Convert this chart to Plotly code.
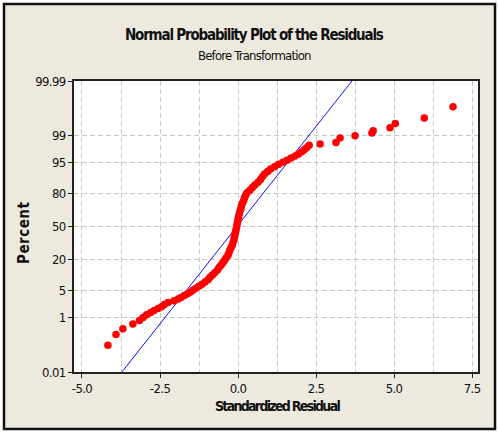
import plotly.graph_objects as go
from statistics import NormalDist

# ---- data ----
residual = [
    -4.17, -3.91, -3.69, -3.37, -3.16, -3.04, -2.93, -2.80, -2.69, -2.56,
    -2.45, -2.36, -2.24, -2.05, -1.92, -1.83, -1.72, -1.62, -1.52, -1.44,
    -1.35, -1.25, -1.15, -1.06, -0.96, -0.90, -0.82, -0.74, -0.66, -0.61,
    -0.54, -0.48, -0.43, -0.38, -0.32, -0.29, -0.26, -0.22, -0.18, -0.16,
    -0.13, -0.12, -0.10, -0.08, -0.06, -0.045, -0.03, -0.016, 0.0, 0.02,
    0.04, 0.06, 0.09, 0.11, 0.14, 0.18, 0.21, 0.24, 0.29, 0.38,
    0.46, 0.54, 0.64, 0.72, 0.78, 0.85, 0.95, 1.04, 1.17, 1.30,
    1.44, 1.57, 1.70, 1.83, 1.94, 2.04, 2.12, 2.20, 2.28,
    2.63, 3.14, 3.27, 3.75, 4.29, 4.33, 4.87, 5.04, 5.97, 6.89,
]
percent = [
    0.12, 0.29, 0.45, 0.64, 0.82, 1.0, 1.2, 1.4, 1.6, 1.8,
    2.0, 2.3, 2.6, 2.9, 3.2, 3.5, 3.9, 4.3, 4.7, 5.2,
    5.7, 6.3, 7.0, 7.8, 8.7, 9.7, 10.8, 12.0, 13.3, 14.7,
    16.2, 17.8, 19.5, 21.3, 23.2, 25.2, 27.3, 29.5, 31.8, 34.2,
    36.7, 39.2, 41.8, 44.4, 47.0, 49.6, 52.2, 54.8, 57.4, 60.0,
    62.6, 65.1, 67.6, 70.0, 72.3, 74.5, 76.6, 78.6, 80.5, 82.3,
    84.0, 85.6, 87.1, 88.5, 89.8, 91.0, 92.0, 92.9, 93.7, 94.4,
    95.0, 95.5, 96.0, 96.4, 96.8, 97.2, 97.5, 97.8, 98.1,
    98.24, 98.41, 98.81, 98.98, 99.15, 99.28, 99.42, 99.58, 99.72, 99.89,
]
fit_residual = [-3.72, 3.65]
fit_percent = [0.01, 99.99]

y_tick_pct = [0.01, 1, 5, 20, 50, 80, 95, 99, 99.99]
y_tick_text = ["0.01", "1", "5", "20", "50", "80", "95", "99", "99.99"]
x_tick_vals = [-5.0, -2.5, 0.0, 2.5, 5.0, 7.5]
x_tick_text = ["-5.0", "-2.5", "0.0", "2.5", "5.0", "7.5"]

nd = NormalDist()
def pscale(p):
    return nd.inv_cdf(p / 100.0)

y_pts = [pscale(p) for p in percent]
y_fit = [pscale(p) for p in fit_percent]
y_ticks = [pscale(p) for p in y_tick_pct]

def squeeze(s, sp):
    return '<span style="letter-spacing:%spx">%s</span>' % (sp, s)

BEIGE = "#EDE9DF"
FAM = "DejaVu Sans Condensed, sans-serif"
TICKFONT = dict(family=FAM, size=13, color="#111")

fig = go.Figure()
fig.add_trace(go.Scatter(
    x=fit_residual, y=y_fit, mode="lines",
    line=dict(color="#1010FF", width=1), hoverinfo="skip", showlegend=False))
fig.add_trace(go.Scatter(
    x=residual, y=y_pts, mode="markers",
    marker=dict(color="#FF0000", size=7.5, line=dict(width=0)), showlegend=False))

L, R, T, B = 74, 20, 81, 60
W, H = 498, 432
pw, ph = W - L - R, H - T - B
def px(x):
    return (x - L) / pw
def py(y):
    return (H - B - y) / ph

fig.update_layout(
    width=W, height=H,
    margin=dict(l=L, r=R, t=T, b=B),
    paper_bgcolor="white", plot_bgcolor="white",
    shapes=[
        dict(type="rect", xref="paper", yref="paper", layer="below",
             x0=px(4), x1=px(495), y0=py(429), y1=py(4),
             fillcolor=BEIGE, line=dict(color="#111", width=2.5)),
        dict(type="rect", xref="paper", yref="paper", layer="below",
             x0=0, x1=1, y0=0, y1=1, fillcolor="white", line=dict(width=0)),
    ],
    xaxis=dict(
        range=[-5.256, 7.69], tickvals=x_tick_vals,
        ticktext=[squeeze(t, -0.6) for t in x_tick_text],
        ticks="outside", ticklen=4, tickcolor="#222",
        showgrid=True, gridcolor="#C8C8C8", griddash="5px,3px", gridwidth=1,
        minor=dict(dtick=1.25, tick0=-5, showgrid=True, gridcolor="#C8C8C8",
                   griddash="5px,3px", gridwidth=1),
        showline=True, linecolor="#222", linewidth=1.5, mirror=True,
        zeroline=False, tickfont=TICKFONT,
    ),
    yaxis=dict(
        range=[pscale(0.01), pscale(99.99)], tickvals=y_ticks,
        ticktext=[squeeze(t, -0.6) for t in y_tick_text],
        ticks="outside", ticklen=4, tickcolor="#222",
        showgrid=True, gridcolor="#C8C8C8", griddash="5px,3px", gridwidth=1,
        showline=True, linecolor="#222", linewidth=1.5, mirror=True,
        zeroline=False, tickfont=TICKFONT,
    ),
    annotations=[
        dict(text="<b>" + squeeze("Normal Probability Plot of the Residuals", -1.2) + "</b>",
             xref="paper", yref="paper",
             x=px(254), y=py(35), showarrow=False, xanchor="center", yanchor="middle",
             font=dict(family=FAM, size=15, color="#111")),
        dict(text=squeeze("Before Transformation", -0.8), xref="paper", yref="paper",
             x=px(254), y=py(55), showarrow=False, xanchor="center", yanchor="middle",
             font=dict(family=FAM, size=13, color="#111")),
        dict(text="<b>" + squeeze("Standardized Residual", -1.7) + "</b>",
             xref="paper", yref="paper",
             x=px(277), y=py(406), showarrow=False, xanchor="center", yanchor="middle",
             font=dict(family=FAM, size=14, color="#111")),
        dict(text="<b>" + squeeze("Percent", 0.5) + "</b>", xref="paper", yref="paper",
             textangle=-90,
             x=px(24), y=py(233), showarrow=False, xanchor="center", yanchor="middle",
             font=dict(family=FAM, size=15, color="#111")),
    ],
)

fig.write_html("out.html")
